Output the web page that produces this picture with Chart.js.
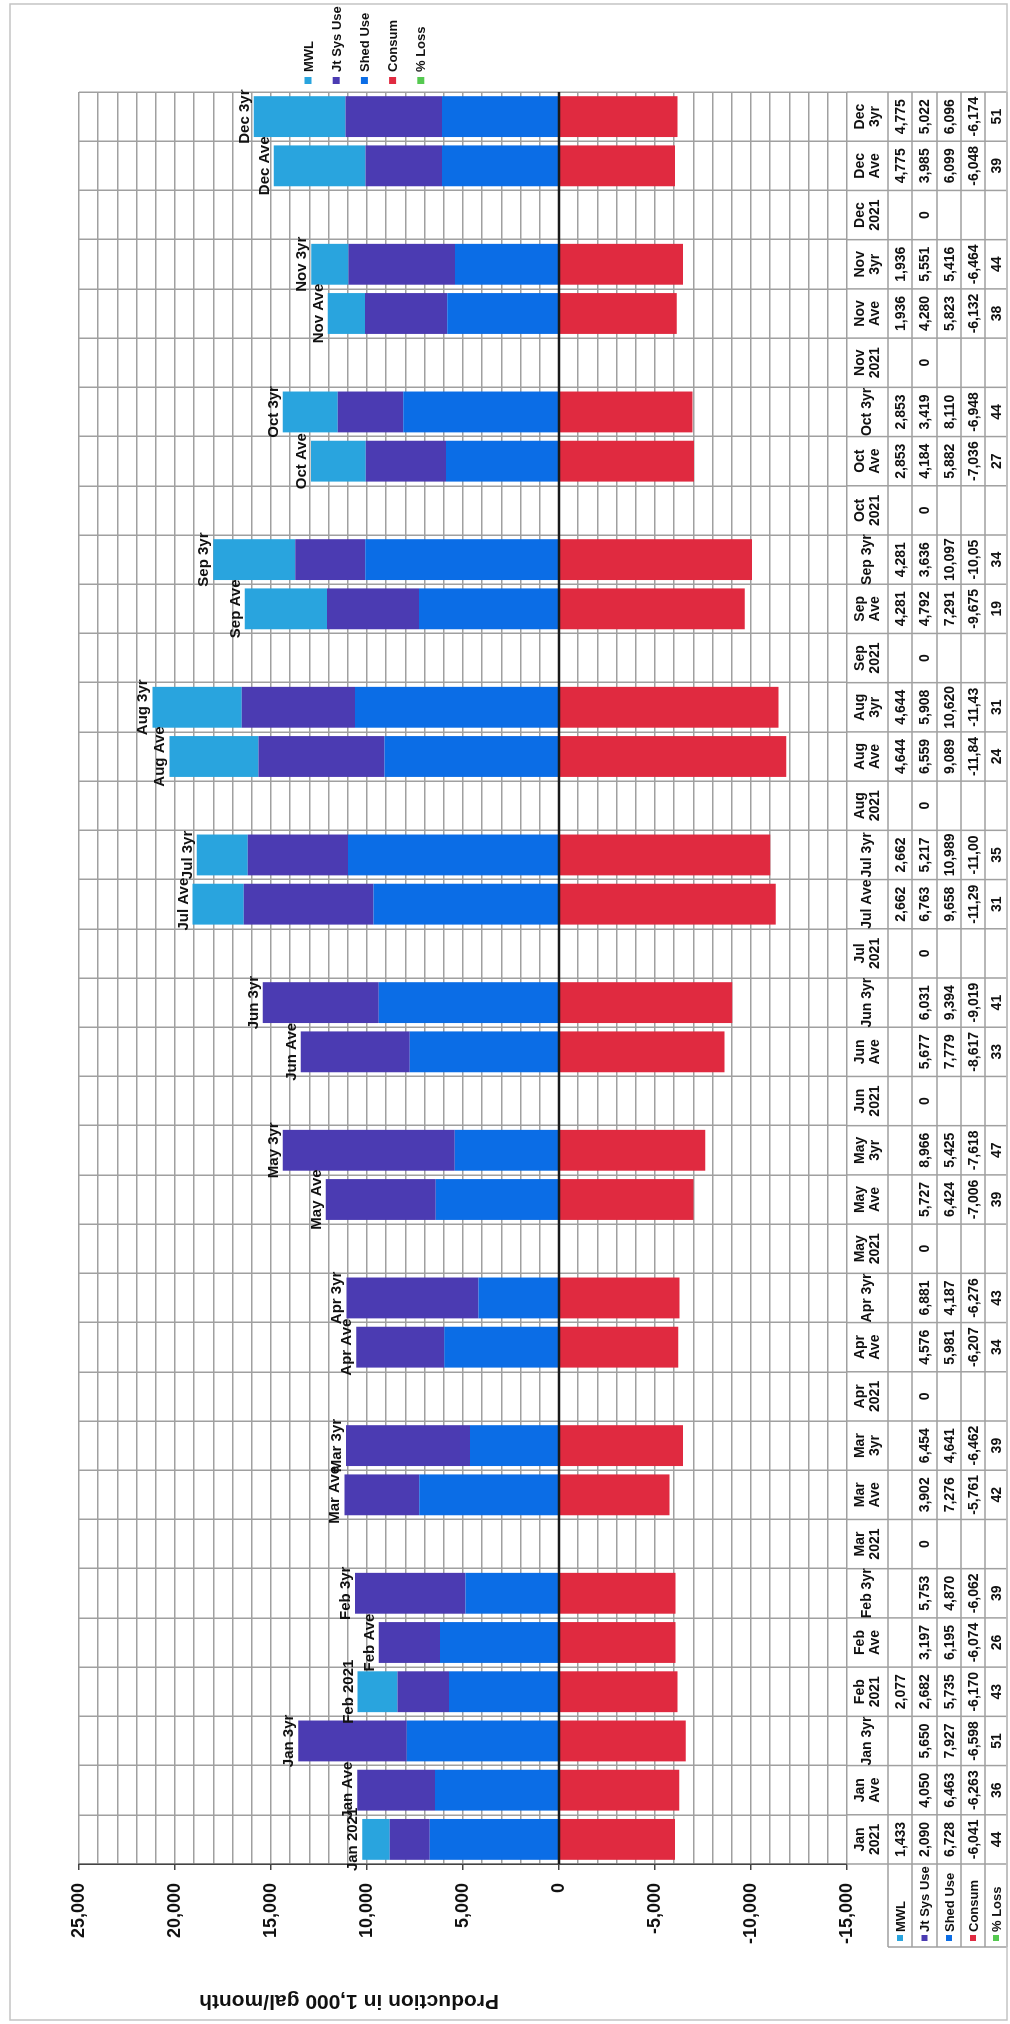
<!DOCTYPE html>
<html>
<head>
<meta charset="utf-8">
<script src="https://cdn.jsdelivr.net/npm/chart.js@4.4.1/dist/chart.umd.min.js"></script>
<style>
  html, body { margin: 0; padding: 0; background: #fff; }
  body { width: 1010px; height: 2024px; overflow: hidden; position: relative; }
  /* the sheet is a landscape chart turned a quarter turn to the left */
  #sheet { position: absolute; left: 0; top: 0; width: 2024px; height: 1010px;
           transform-origin: 0 0; transform: translateY(2024px) rotate(-90deg); }
</style>
</head>
<body>
<div id="sheet"><canvas id="chart" width="2024" height="1010"></canvas></div>
<script>
const categories = [
  "Jan 2021", "Jan Ave", "Jan 3yr", "Feb 2021", "Feb Ave", "Feb 3yr",
  "Mar 2021", "Mar Ave", "Mar 3yr", "Apr 2021", "Apr Ave", "Apr 3yr",
  "May 2021", "May Ave", "May 3yr", "Jun 2021", "Jun Ave", "Jun 3yr",
  "Jul 2021", "Jul Ave", "Jul 3yr", "Aug 2021", "Aug Ave", "Aug 3yr",
  "Sep 2021", "Sep Ave", "Sep 3yr", "Oct 2021", "Oct Ave", "Oct 3yr",
  "Nov 2021", "Nov Ave", "Nov 3yr", "Dec 2021", "Dec Ave", "Dec 3yr",
];
// table headers that fit on one line, the rest wrap onto two
const singleLineHeads = ["Jan 3yr", "Feb 3yr", "Apr 3yr", "Jun 3yr", "Jul Ave", "Jul 3yr", "Sep 3yr", "Oct 3yr"];

const mwl = [1433, null, null, 2077, null, null, null, null, null, null, null, null,
  null, null, null, null, null, null, null, 2662, 2662, null, 4644, 4644,
  null, 4281, 4281, null, 2853, 2853, null, 1936, 1936, null, 4775, 4775];
const jtSysUse = [2090, 4050, 5650, 2682, 3197, 5753, 0, 3902, 6454, 0, 4576, 6881,
  0, 5727, 8966, 0, 5677, 6031, 0, 6763, 5217, 0, 6559, 5908,
  0, 4792, 3636, 0, 4184, 3419, 0, 4280, 5551, 0, 3985, 5022];
const shedUse = [6728, 6463, 7927, 5735, 6195, 4870, null, 7276, 4641, null, 5981, 4187,
  null, 6424, 5425, null, 7779, 9394, null, 9658, 10989, null, 9089, 10620,
  null, 7291, 10097, null, 5882, 8110, null, 5823, 5416, null, 6099, 6096];
const consum = [-6041, -6263, -6598, -6170, -6074, -6062, null, -5761, -6462, null, -6207, -6276,
  null, -7006, -7618, null, -8617, -9019, null, -11290, -11000, null, -11840, -11430,
  null, -9675, -10050, null, -7036, -6948, null, -6132, -6464, null, -6048, -6174];
const pctLoss = [44, 36, 51, 43, 26, 39, null, 42, 39, null, 34, 43,
  null, 39, 47, null, 33, 41, null, 31, 35, null, 24, 31,
  null, 19, 34, null, 27, 44, null, 38, 44, null, 39, 51];

const axisTitle = "Production in 1,000 gal/month";

const COLORS = {
  mwl: "#29a4de",
  jt: "#4b3bb2",
  shed: "#0b6de6",
  consum: "#e02a40",
  loss: "#55c950",
};
const GRID = "#a0a0a0";
const FONT = "'Liberation Sans', Arial, sans-serif";

const seriesRows = [
  { name: "MWL", color: COLORS.mwl, data: mwl },
  { name: "Jt Sys Use", color: COLORS.jt, data: jtSysUse },
  { name: "Shed Use", color: COLORS.shed, data: shedUse },
  { name: "Consum", color: COLORS.consum, data: consum },
  { name: "% Loss", color: COLORS.loss, data: pctLoss },
];

function fmt(v) {
  const s = v.toLocaleString("en-US");
  // the narrow table cells cut long numbers short
  return s.length > 6 ? s.slice(0, 6) : s;
}

// zero line on top of the bars, and the name over each stack
const barExtras = {
  id: "barExtras",
  afterDatasetsDraw(chart) {
    const { ctx, chartArea, scales } = chart;
    const y0 = scales.y.getPixelForValue(0);
    ctx.save();
    ctx.strokeStyle = "#1a1a1a";
    ctx.lineWidth = 2.5;
    ctx.beginPath();
    ctx.moveTo(chartArea.left, y0);
    ctx.lineTo(chartArea.right, y0);
    ctx.stroke();

    ctx.fillStyle = "#111";
    ctx.font = "bold 15px " + FONT;
    ctx.textAlign = "center";
    ctx.textBaseline = "alphabetic";
    categories.forEach((c, i) => {
      const total = (shedUse[i] || 0) + (jtSysUse[i] || 0) + (mwl[i] || 0);
      if (total <= 0) return;
      const x = scales.x.getPixelForValue(i);
      const y = scales.y.getPixelForValue(total);
      ctx.fillText(c, x, y - 5);
    });
    ctx.restore();
  },
};

// data table, legend, axis title and the page frame
const sheetExtras = {
  id: "sheetExtras",
  afterDraw(chart) {
    const { ctx, chartArea, scales } = chart;
    const top = chartArea.bottom;
    const rowEdges = [888, 912, 937, 961, 985, 1007];
    const headLeft = 77;
    const catW = (chartArea.right - chartArea.left) / categories.length;

    ctx.save();
    ctx.strokeStyle = GRID;
    ctx.lineWidth = 1.5;
    ctx.beginPath();
    for (let i = 0; i <= categories.length; i++) {
      const u = chartArea.left + i * catW;
      ctx.moveTo(u, top);
      ctx.lineTo(u, rowEdges[rowEdges.length - 1]);
    }
    rowEdges.forEach((v) => {
      ctx.moveTo(headLeft, v);
      ctx.lineTo(chartArea.right, v);
    });
    ctx.moveTo(headLeft, rowEdges[0]);
    ctx.lineTo(headLeft, rowEdges[rowEdges.length - 1]);
    ctx.stroke();

    ctx.fillStyle = "#111";
    ctx.textAlign = "center";
    ctx.textBaseline = "middle";
    ctx.font = "bold 14px " + FONT;
    categories.forEach((c, i) => {
      const x = scales.x.getPixelForValue(i);
      if (singleLineHeads.includes(c)) {
        ctx.fillText(c, x, (top + rowEdges[0]) / 2);
      } else {
        const parts = c.split(" ");
        ctx.fillText(parts[0], x, (top + rowEdges[0]) / 2 - 7);
        ctx.fillText(parts[1], x, (top + rowEdges[0]) / 2 + 8);
      }
    });

    seriesRows.forEach((row, r) => {
      const vc = (rowEdges[r] + rowEdges[r + 1]) / 2;
      ctx.fillStyle = row.color;
      ctx.fillRect(headLeft + 6, vc - 3, 6, 6);
      ctx.fillStyle = "#111";
      ctx.textAlign = "left";
      ctx.font = "bold 13px " + FONT;
      ctx.fillText(row.name, headLeft + 15, vc + 1);
      ctx.textAlign = "center";
      ctx.font = "bold 14px " + FONT;
      row.data.forEach((v, i) => {
        if (v === null) return;
        ctx.fillText(fmt(v), scales.x.getPixelForValue(i), vc + 1);
      });
    });

    // legend
    ctx.font = "bold 13px " + FONT;
    ctx.textAlign = "left";
    seriesRows.forEach((row, k) => {
      const vc = 308 + k * 28.2;
      ctx.fillStyle = row.color;
      ctx.fillRect(1940, vc - 3.5, 7, 7);
      ctx.fillStyle = "#111";
      ctx.fillText(row.name, 1952, vc + 1);
    });

    // axis title
    ctx.save();
    ctx.translate(23, 349);
    ctx.rotate(-Math.PI / 2);
    ctx.font = "bold 21px " + FONT;
    ctx.textAlign = "center";
    ctx.fillText(axisTitle, 0, 0);
    ctx.restore();

    // page frame
    ctx.strokeStyle = "#c4c4c4";
    ctx.lineWidth = 1.5;
    ctx.strokeRect(4, 10, 2016, 997);
    ctx.restore();
  },
};

new Chart(document.getElementById("chart"), {
  type: "bar",
  data: {
    labels: categories,
    datasets: [
      { label: "Shed Use", data: shedUse, backgroundColor: COLORS.shed, stack: "s" },
      { label: "Jt Sys Use", data: jtSysUse, backgroundColor: COLORS.jt, stack: "s" },
      { label: "MWL", data: mwl, backgroundColor: COLORS.mwl, stack: "s" },
      { label: "Consum", data: consum, backgroundColor: COLORS.consum, stack: "s" },
      {
        label: "% Loss", type: "line", data: pctLoss, yAxisID: "y2",
        showLine: false, pointRadius: 0, borderColor: COLORS.loss, backgroundColor: COLORS.loss,
      },
    ],
  },
  options: {
    responsive: false,
    animation: false,
    devicePixelRatio: 1,
    layout: { padding: { left: 0, top: 79, right: 92, bottom: 163 } },
    datasets: { bar: { categoryPercentage: 0.83, barPercentage: 1 } },
    plugins: { legend: { display: false }, tooltip: { enabled: false } },
    scales: {
      x: {
        stacked: true,
        grid: { offset: true, color: GRID, lineWidth: 1.5, drawTicks: false },
        border: { display: false },
        ticks: { display: false },
        afterFit(s) { s.height = 0; },
      },
      y: {
        stacked: true,
        min: -15000,
        max: 25000,
        ticks: {
          stepSize: 1000,
          autoSkip: false,
          padding: 13,
          color: "#111",
          font: { family: FONT, weight: "bold", size: 18 },
          callback: (v) => (v % 5000 === 0 ? v.toLocaleString("en-US") : ""),
        },
        grid: {
          color: GRID,
          lineWidth: 1.5,
          tickLength: 6,
          tickColor: (c) => (c.tick && c.tick.value % 5000 === 0 ? "#444" : "rgba(0,0,0,0)"),
        },
        border: { color: "#444", width: 1.5 },
        afterFit(s) { s.width = 160; },
      },
      y2: { display: false, min: 0, max: 100 },
    },
  },
  plugins: [barExtras, sheetExtras],
});
</script>
</body>
</html>
